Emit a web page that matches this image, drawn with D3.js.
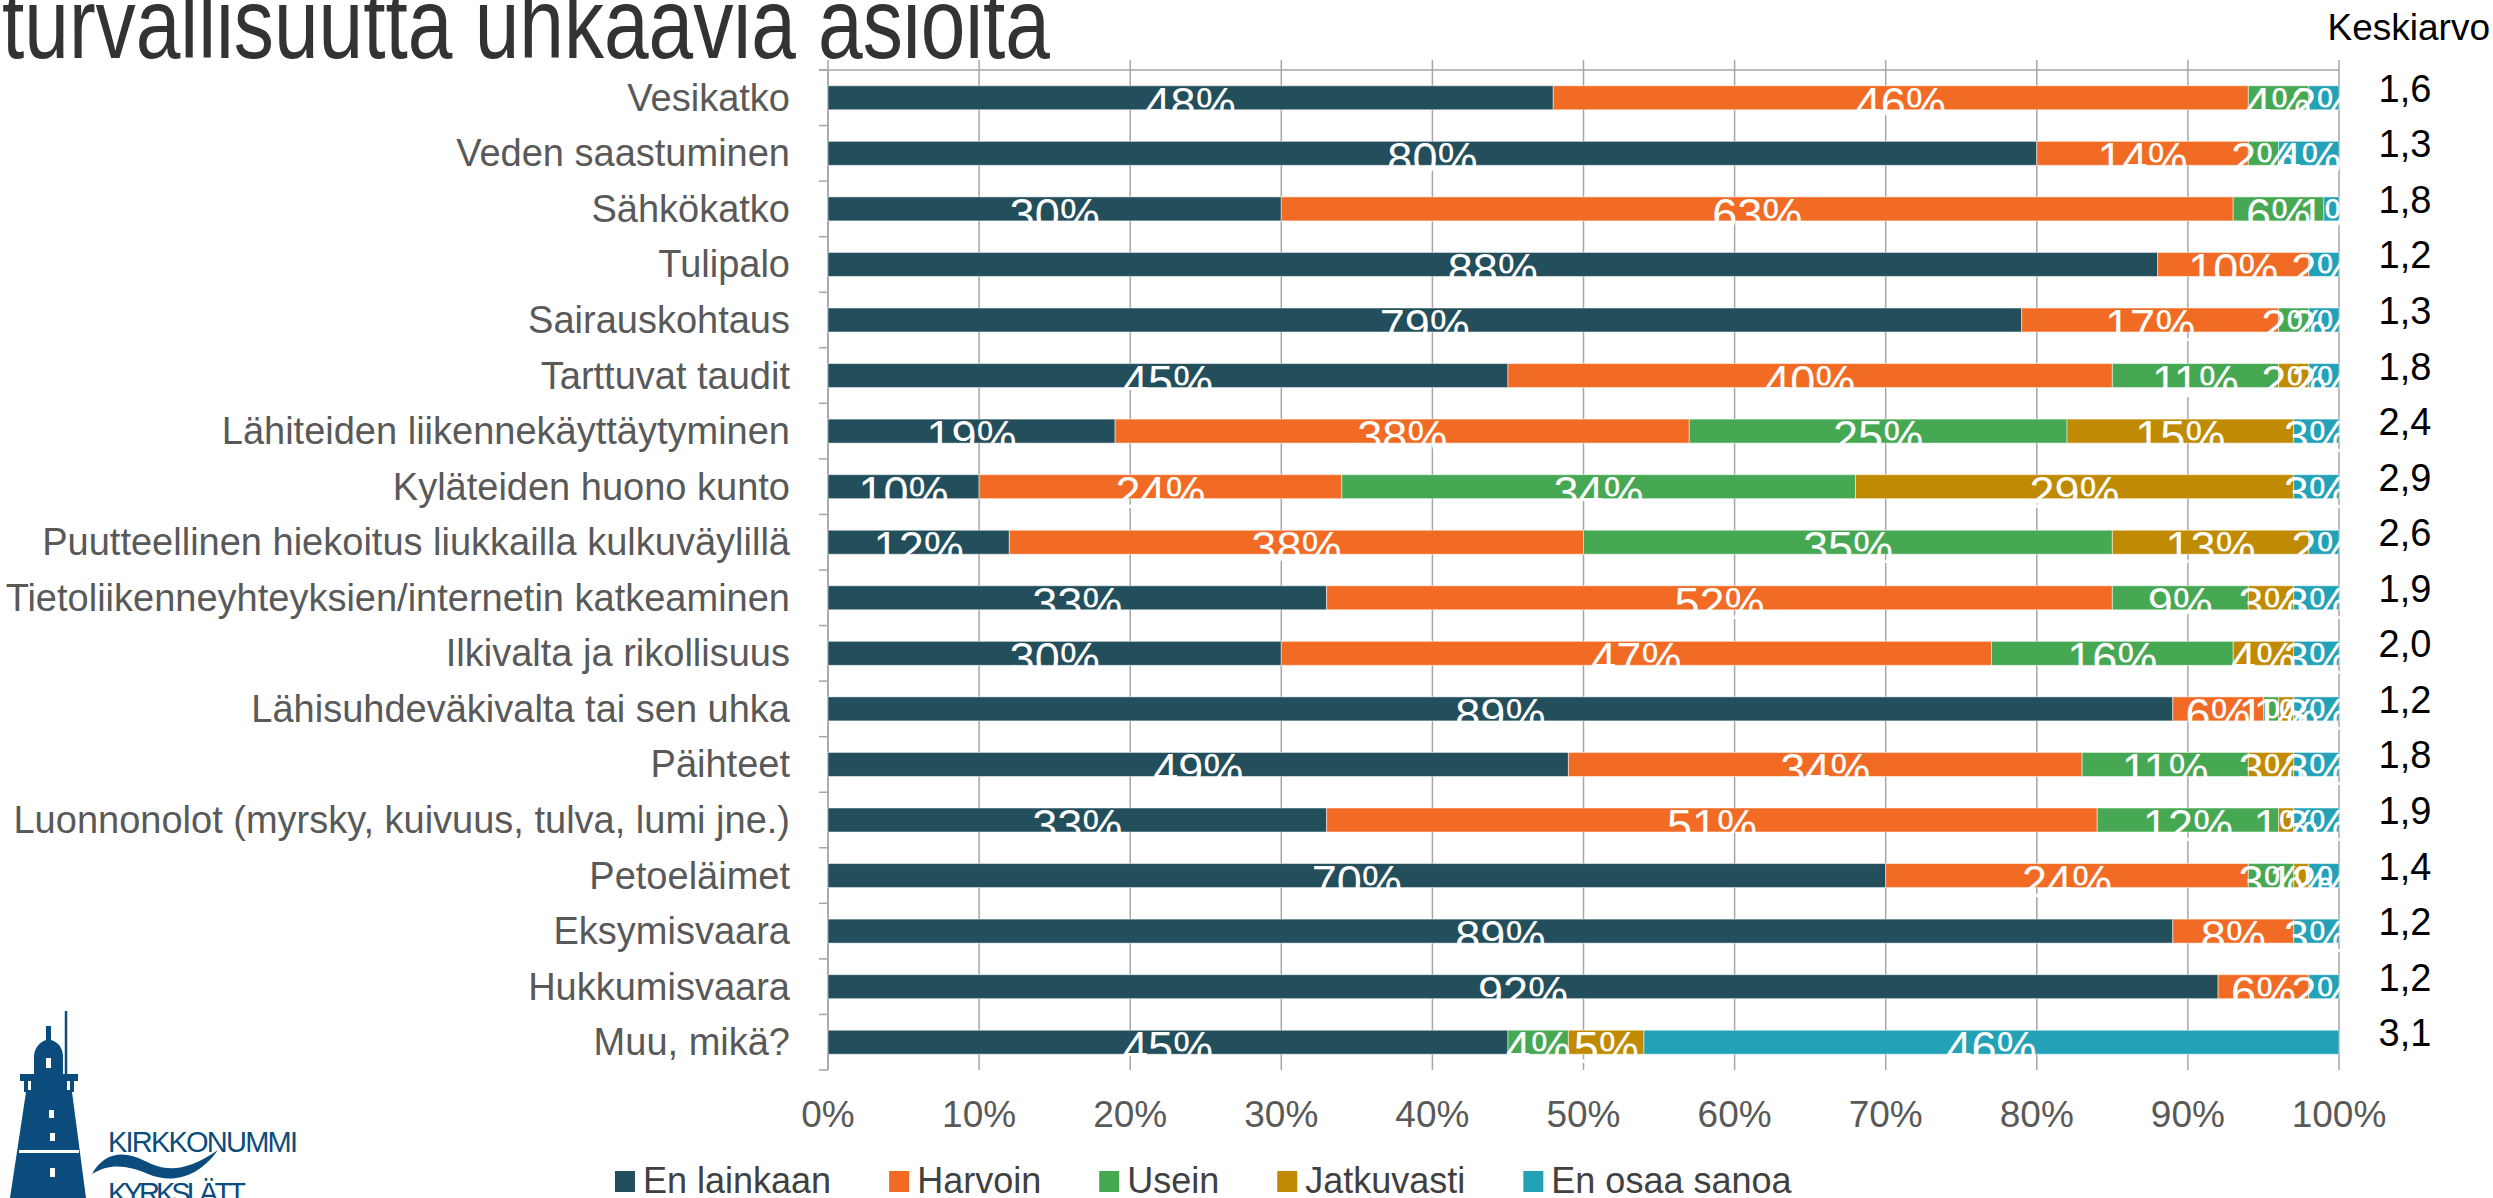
<!DOCTYPE html>
<html>
<head>
<meta charset="utf-8">
<script src="https://cdn.jsdelivr.net/npm/d3@7"></script>
<style>
  body { margin: 0; background: #fff; }
  text { font-family: "Liberation Sans", Arial, sans-serif; }
</style>
</head>
<body>
<svg id="chart" width="2493" height="1198"></svg>
<script>
// data, top to bottom
const categories = [
  "Vesikatko", "Veden saastuminen", "Sähkökatko", "Tulipalo", "Sairauskohtaus",
  "Tarttuvat taudit", "Lähiteiden liikennekäyttäytyminen", "Kyläteiden huono kunto",
  "Puutteellinen hiekoitus liukkailla kulkuväylillä",
  "Tietoliikenneyhteyksien/internetin katkeaminen", "Ilkivalta ja rikollisuus",
  "Lähisuhdeväkivalta tai sen uhka", "Päihteet",
  "Luonnonolot (myrsky, kuivuus, tulva, lumi jne.)", "Petoeläimet", "Eksymisvaara",
  "Hukkumisvaara", "Muu, mikä?"
];
const series = ["En lainkaan", "Harvoin", "Usein", "Jatkuvasti", "En osaa sanoa"];
const enLainkaan  = [48, 80, 30, 88, 79, 45, 19, 10, 12, 33, 30, 89, 49, 33, 70, 89, 92, 45];
const harvoin     = [46, 14, 63, 10, 17, 40, 38, 24, 38, 52, 47,  6, 34, 51, 24,  8,  6,  0];
const usein       = [ 4,  2,  6,  0,  2, 11, 25, 34, 35,  9, 16,  1, 11, 12,  3,  0,  0,  4];
const jatkuvasti  = [ 0,  0,  0,  0,  0,  2, 15, 29, 13,  3,  4,  1,  3,  1,  1,  0,  0,  5];
const enOsaaSanoa = [ 2,  4,  1,  2,  2,  2,  3,  3,  2,  3,  3,  3,  3,  3,  2,  3,  2, 46];
const keskiarvo = ["1,6", "1,3", "1,8", "1,2", "1,3", "1,8", "2,4", "2,9", "2,6",
                   "1,9", "2,0", "1,2", "1,8", "1,9", "1,4", "1,2", "1,2", "3,1"];
const xTicks = [0, 10, 20, 30, 40, 50, 60, 70, 80, 90, 100];

const colors = ["#234e5c", "#f26b25", "#46a853", "#c08b02", "#23a2b7"];

const rows = categories.map((c, i) => ({
  cat: c,
  "En lainkaan": enLainkaan[i],
  "Harvoin": harvoin[i],
  "Usein": usein[i],
  "Jatkuvasti": jatkuvasti[i],
  "En osaa sanoa": enOsaaSanoa[i]
}));

const svg = d3.select("#chart");
const plotLeft = 828, plotRight = 2339, plotTop = 70, plotBottom = 1070;

const x = d3.scaleLinear().domain([0, 100]).range([plotLeft, plotRight]);
const y = d3.scaleBand().domain(categories).range([plotTop, plotBottom])
  .paddingInner(0.568).paddingOuter(0.284);
const color = d3.scaleOrdinal().domain(series).range(colors);

// title (cut off at the top, as in the slide)
svg.append("text")
  .attr("x", 2).attr("y", 58)
  .attr("font-size", 100)
  .attr("textLength", 1048)
  .attr("lengthAdjust", "spacingAndGlyphs")
  .attr("fill", "#333")
  .text("turvallisuutta uhkaavia asioita");

// vertical gridlines
svg.append("g")
  .selectAll("line")
  .data(xTicks)
  .join("line")
  .attr("x1", d => x(d)).attr("x2", d => x(d))
  .attr("y1", plotTop - 10).attr("y2", plotBottom)
  .attr("stroke", "#a6a6a6")
  .attr("stroke-width", 1.5);

// top axis line
svg.append("line")
  .attr("x1", plotLeft - 9).attr("x2", plotRight)
  .attr("y1", plotTop).attr("y2", plotTop)
  .attr("stroke", "#a6a6a6").attr("stroke-width", 1.5);

// category axis with ticks between bands
const step = y.step();
const bounds = d3.range(categories.length + 1).map(i => plotTop + i * step);
svg.append("line")
  .attr("x1", plotLeft).attr("x2", plotLeft)
  .attr("y1", plotTop).attr("y2", plotBottom)
  .attr("stroke", "#a6a6a6").attr("stroke-width", 1.5);
svg.append("g")
  .selectAll("line")
  .data(bounds)
  .join("line")
  .attr("x1", plotLeft - 9).attr("x2", plotLeft)
  .attr("y1", d => d).attr("y2", d => d)
  .attr("stroke", "#a6a6a6").attr("stroke-width", 1.5);

// category labels
svg.append("g")
  .selectAll("text")
  .data(categories)
  .join("text")
  .attr("x", plotLeft - 38)
  .attr("y", d => y(d) + y.bandwidth() / 2 + 13)
  .attr("text-anchor", "end")
  .attr("font-size", 38)
  .attr("fill", "#595959")
  .text(d => d);

// x tick labels
svg.append("g")
  .selectAll("text")
  .data(xTicks)
  .join("text")
  .attr("x", d => x(d))
  .attr("y", 1127)
  .attr("text-anchor", "middle")
  .attr("font-size", 37)
  .attr("fill", "#595959")
  .text(d => d + "%");

// stacked bars
const stacked = d3.stack().keys(series)(rows);

const layers = svg.append("g")
  .selectAll("g")
  .data(stacked)
  .join("g")
  .attr("fill", d => color(d.key));

layers.selectAll("rect")
  .data(d => d)
  .join("rect")
  .attr("x", d => x(d[0]))
  .attr("y", d => y(d.data.cat))
  .attr("width", d => x(d[1]) - x(d[0]))
  .attr("height", y.bandwidth())
  .attr("stroke", "#ffffff")
  .attr("stroke-opacity", 0.5)
  .attr("stroke-width", 1);

// value labels (white, drawn after all bars)
const labelData = stacked.flatMap(s => s.map(d => ({ key: s.key, d })))
  .filter(o => o.d[1] - o.d[0] > 0);

svg.append("g")
  .selectAll("text")
  .data(labelData)
  .join("text")
  .attr("x", o => x((o.d[0] + o.d[1]) / 2))
  .attr("y", o => y(o.d.data.cat) + y.bandwidth() / 2 + 21)
  .attr("text-anchor", "middle")
  .attr("font-size", 45)
  .attr("fill", "#fff")
  .text(o => (o.d[1] - o.d[0]) + "%");

// Keskiarvo column
svg.append("text")
  .attr("x", 2490).attr("y", 40)
  .attr("text-anchor", "end")
  .attr("font-size", 37)
  .attr("fill", "#000")
  .text("Keskiarvo");

svg.append("g")
  .selectAll("text")
  .data(keskiarvo)
  .join("text")
  .attr("x", 2405)
  .attr("y", (d, i) => y(categories[i]) + y.bandwidth() / 2 + 4)
  .attr("text-anchor", "middle")
  .attr("font-size", 38)
  .attr("fill", "#000")
  .text(d => d);

// legend
const legend = svg.append("g");
let lx = 615;
series.forEach((s, i) => {
  legend.append("rect")
    .attr("x", lx).attr("y", 1171)
    .attr("width", 20).attr("height", 21)
    .attr("fill", colors[i]);
  const t = legend.append("text")
    .attr("x", lx + 28).attr("y", 1193)
    .attr("font-size", 36)
    .attr("fill", "#404040")
    .text(s);
  lx += 28 + t.node().getComputedTextLength() + 58;
});

// logo, bottom left
const logo = svg.append("g").attr("fill", "#0b4c7d");
logo.append("line")
  .attr("x1", 66).attr("x2", 66).attr("y1", 1011).attr("y2", 1080)
  .attr("stroke", "#0b4c7d").attr("stroke-width", 2.5);
logo.append("path")
  .attr("d", "M46,1026 L51,1026 L51,1040 C59,1042 63,1049 63,1057 L63,1074 L34,1074 L34,1057 C34,1049 39,1042 46,1040 Z");
logo.append("path")
  .attr("d", "M20,1074 L78,1074 L78,1081 L74,1081 L74,1092 L24,1092 L24,1081 L20,1081 Z");
logo.append("path")
  .attr("d", "M26,1092 L72,1092 L86,1198 L10,1198 Z");
const win = svg.append("g").attr("fill", "#fff");
win.append("rect").attr("x", 46).attr("y", 1058).attr("width", 5).attr("height", 10);
win.append("rect").attr("x", 49).attr("y", 1110).attr("width", 5).attr("height", 8);
win.append("rect").attr("x", 50).attr("y", 1133).attr("width", 5).attr("height", 8);
win.append("rect").attr("x", 19).attr("y", 1150).attr("width", 60).attr("height", 3);
win.append("rect").attr("x", 50).attr("y", 1168).attr("width", 5).attr("height", 9);
win.append("rect").attr("x", 28).attr("y", 1081).attr("width", 3).attr("height", 9);
win.append("rect").attr("x", 67).attr("y", 1081).attr("width", 3).attr("height", 9);

logo.append("text")
  .attr("x", 108).attr("y", 1152)
  .attr("font-family", "'Open Sans', sans-serif")
  .attr("font-weight", 300)
  .attr("font-size", 29)
  .attr("textLength", 190)
  .text("KIRKKONUMMI");
logo.append("path")
  .attr("d", "M92,1174 C104,1152 124,1150 145,1161 C166,1172 186,1172 218,1150 C198,1178 172,1184 148,1174 C127,1165 110,1163 92,1174 Z");
logo.append("text")
  .attr("x", 108).attr("y", 1203)
  .attr("font-family", "'Open Sans', sans-serif")
  .attr("font-weight", 300)
  .attr("font-size", 29)
  .attr("textLength", 138)
  .text("KYRKSLÄTT");
</script>
</body>
</html>
